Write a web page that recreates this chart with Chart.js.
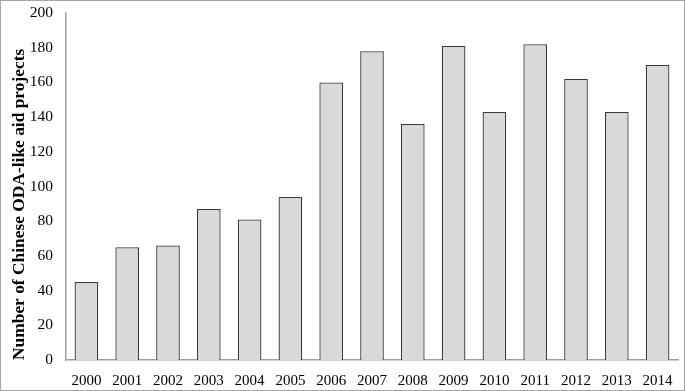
<!DOCTYPE html>
<html lang="en">
<head>
    <meta charset="UTF-8" />
    <title>Chinese ODA-like aid projects</title>
    <script src="https://cdn.jsdelivr.net/npm/chart.js"></script>
    <style>
        body { margin: 0; background: #fff; }
        #moldura {
            position: relative;
            width: 685px;
            height: 391px;
            box-sizing: border-box;
            border: 1px solid #a6a6a6;
        }
    </style>
</head>
<body>

    <div id="moldura">
        <canvas id="grafico"></canvas>
    </div>

<script>
    // dados
    const anos = ['2000', '2001', '2002', '2003', '2004', '2005', '2006', '2007',
        '2008', '2009', '2010', '2011', '2012', '2013', '2014'];
    const projetos = [45, 65, 66, 87, 81, 94, 160, 178, 136, 181, 143, 182, 162, 143, 170];
    const eixoY = { min: 0, max: 200, passo: 20 };
    const tituloY = 'Number of Chinese ODA-like aid projects';

    const fonte = 'Liberation Serif, Times New Roman, serif';

    const data = {
        labels: anos,
        datasets: [{
            label: tituloY,
            data: projetos,
            backgroundColor: '#d9d9d9',
            borderColor: '#3c3c3c',
            borderWidth: 1.3,
            categoryPercentage: 1,
            barPercentage: 0.58
        }]
    };

    const config = {
        type: 'bar',
        data: data,
        options: {
            responsive: true,
            maintainAspectRatio: false,
            animation: false,
            layout: {
                padding: { top: 12, right: 6, bottom: 0, left: 0 }
            },
            scales: {
                x: {
                    grid: { display: false, drawTicks: false },
                    border: { color: '#a0a0a0', width: 1.5 },
                    ticks: {
                        color: '#000',
                        padding: 12,
                        maxRotation: 0,
                        autoSkip: false,
                        font: { family: fonte, size: 15 }
                    },
                    afterFit: function (s) {
                        s.height = 30;
                        s.paddingLeft = 0;
                        s.paddingRight = 0;
                    }
                },
                y: {
                    min: eixoY.min,
                    max: eixoY.max,
                    grid: { display: false, drawTicks: false },
                    border: { color: '#a0a0a0', width: 1.5 },
                    ticks: {
                        stepSize: eixoY.passo,
                        color: '#000',
                        padding: 13,
                        font: { family: fonte, size: 15.5 }
                    },
                    title: {
                        display: true,
                        text: tituloY,
                        align: 'start',
                        color: '#000',
                        padding: { top: 8.5, bottom: 0 },
                        font: { family: fonte, size: 17.4, weight: 'bold' }
                    },
                    afterFit: function (s) {
                        s.width = 65;
                        s.paddingTop = 0;
                        s.paddingBottom = 0;
                    }
                }
            },
            plugins: {
                legend: { display: false },
                tooltip: { enabled: false }
            }
        }
    };

    const myChart = new Chart(document.getElementById('grafico'), config);
</script>
</body>
</html>
